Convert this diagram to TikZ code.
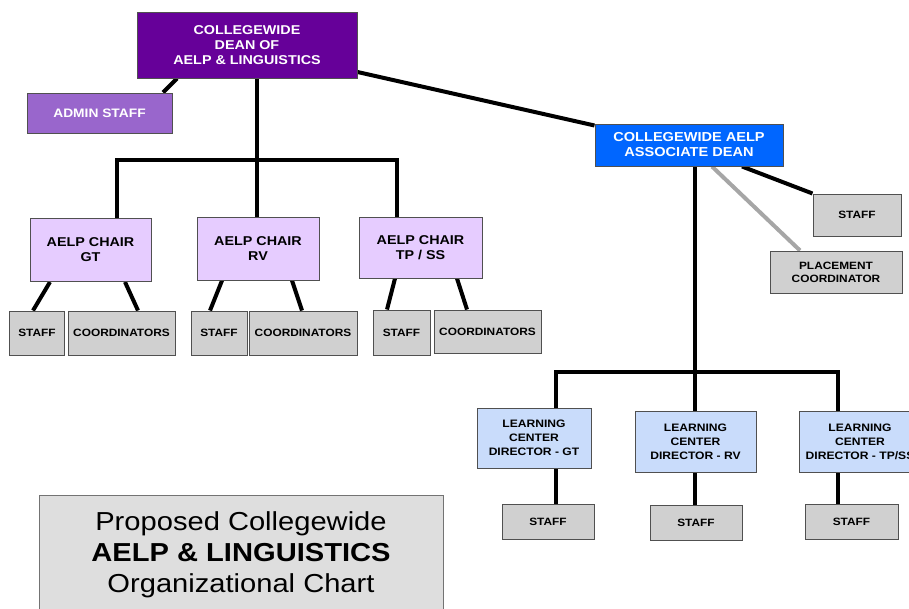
\documentclass[tikz,border=0pt]{standalone}
\usepackage{fontspec}
\setmainfont{Liberation Sans}[FakeStretch=1.12]
\usetikzlibrary{backgrounds}
\definecolor{deanfill}{HTML}{660099}
\definecolor{adminfill}{HTML}{9966CC}
\definecolor{chairfill}{HTML}{E6CCFF}
\definecolor{assocfill}{HTML}{0066FF}
\definecolor{lcfill}{HTML}{C9DCFB}
\definecolor{staffill}{HTML}{D0D0D0}
\definecolor{titlefill}{HTML}{DEDEDE}
\definecolor{boxline}{HTML}{505050}
\definecolor{softline}{HTML}{A6A6A6}
\newcommand\boxfont[2]{\fontsize{#1}{#2}\selectfont\bfseries}
\tikzset{
  orgbox/.style={draw=boxline, line width=1pt, inner sep=0pt, align=center},
  deanbox/.style={orgbox, fill=deanfill, text=white, font=\boxfont{12.8}{15}},
  adminbox/.style={orgbox, fill=adminfill, text=white, font=\boxfont{12.3}{15}},
  chairbox/.style={orgbox, fill=chairfill, font=\boxfont{12.8}{15}},
  assocbox/.style={orgbox, fill=assocfill, text=white, font=\boxfont{13}{15}},
  lcbox/.style={orgbox, fill=lcfill, font=\boxfont{10.8}{14}},
  staffbox/.style={orgbox, fill=staffill, font=\boxfont{10.6}{13}},
  titlebox/.style={draw=boxline!80, line width=1pt, fill=titlefill},
  conn/.style={line width=4pt, black},
  softconn/.style={line width=4pt, softline}
}
\begin{document}
\begin{tikzpicture}[x=1pt, y=-1pt]
\useasboundingbox (0,0) rectangle (909,608);
% top level
\node[deanbox, minimum width=220, minimum height=66] (dean) at (247,45) {COLLEGEWIDE\\DEAN OF\\AELP \& LINGUISTICS};
\node[adminbox, minimum width=145, minimum height=40] (admin) at (99.5,113) {ADMIN STAFF};
% campus chairs
\node[chairbox, minimum width=121, minimum height=63] (chairGT) at (90.5,250) {AELP CHAIR\\GT};
\node[chairbox, minimum width=122, minimum height=63] (chairRV) at (258,248.5) {AELP CHAIR\\RV};
\node[chairbox, minimum width=123, minimum height=61] (chairTP) at (420.5,247.5) {AELP CHAIR\\TP / SS};
\node[staffbox, minimum width=55, minimum height=44] (staffGT) at (37,333) {STAFF};
\node[staffbox, minimum width=107, minimum height=44] (coordGT) at (121.5,333) {COORDINATORS};
\node[staffbox, minimum width=56, minimum height=44] (staffRV) at (219,333) {STAFF};
\node[staffbox, minimum width=108, minimum height=44] (coordRV) at (303,333) {COORDINATORS};
\node[staffbox, minimum width=57, minimum height=45] (staffTP) at (401.5,332.5) {STAFF};
\node[staffbox, minimum width=107, minimum height=43] (coordTP) at (487.5,331.5) {COORDINATORS};
% associate dean branch
\node[assocbox, minimum width=188, minimum height=42] (assoc) at (689,145) {COLLEGEWIDE AELP\\ASSOCIATE DEAN};
\node[staffbox, minimum width=88, minimum height=42] (staffR) at (857,215) {STAFF};
\node[staffbox, minimum width=132, minimum height=42] (placement) at (836,272) {PLACEMENT\\COORDINATOR};
\node[lcbox, minimum width=114, minimum height=60] (lcGT) at (534,438) {LEARNING\\CENTER\\DIRECTOR - GT};
\node[lcbox, minimum width=121, minimum height=61] (lcRV) at (695.5,441.5) {LEARNING\\CENTER\\DIRECTOR - RV};
\node[lcbox, minimum width=122, minimum height=61] (lcTP) at (860,441.5) {LEARNING\\CENTER\\DIRECTOR - TP/SS};
\node[staffbox, minimum width=92, minimum height=35] (lsGT) at (548,521.5) {STAFF};
\node[staffbox, minimum width=92, minimum height=35] (lsRV) at (696,522.5) {STAFF};
\node[staffbox, minimum width=93, minimum height=35] (lsTP) at (851.5,521.5) {STAFF};
% chart title
\node[titlebox, minimum width=404, minimum height=125] (title) at (241,557.5) {};
\node[align=center, inner sep=0pt, font=\fontsize{26}{31}\selectfont] (titletext) at (241,555)
  {Proposed Collegewide\\\textbf{AELP \& LINGUISTICS}\\Organizational Chart};
% connectors
\coordinate (cbar) at (257,160);
\coordinate (lbar) at (695,372);
\begin{scope}[on background layer]
\draw[conn] ([xshift=63.5pt]admin.north) -- ([xshift=-70pt]dean.south);
\draw[conn] ([xshift=10pt]dean.south) -- (cbar);
\draw[conn] ([xshift=26.5pt]chairGT.north) |- (cbar) -| ([xshift=-23.5pt]chairTP.north);
\draw[conn] (cbar) -- ([xshift=-1pt]chairRV.north);
\draw[conn] ([xshift=-40.5pt]chairGT.south) -- ([xshift=-4pt]staffGT.north);
\draw[conn] ([xshift=34.5pt]chairGT.south) -- ([xshift=16.5pt]coordGT.north);
\draw[conn] ([xshift=-36pt]chairRV.south) -- ([xshift=-9pt]staffRV.north);
\draw[conn] ([xshift=34pt]chairRV.south) -- ([xshift=-1pt]coordRV.north);
\draw[conn] ([xshift=-25.5pt]chairTP.south) -- ([xshift=-14.5pt]staffTP.north);
\draw[conn] ([xshift=36.5pt]chairTP.south) -- ([xshift=-20.5pt]coordTP.north);
\draw[conn] ([yshift=-27pt]dean.east) -- ([yshift=-2pt]assoc.north west);
\draw[conn] ([xshift=53pt]assoc.south) -- (staffR.north west);
\draw[softconn] ([xshift=23pt]assoc.south) -- ([xshift=-36pt]placement.north);
\draw[conn] ([xshift=6pt]assoc.south) -- (lbar) -- ([xshift=-0.5pt]lcRV.north);
\draw[conn] ([xshift=22pt]lcGT.north) |- (lbar) -| ([xshift=-22pt]lcTP.north);
\draw[conn] ([xshift=22pt]lcGT.south) -- ([xshift=8pt]lsGT.north);
\draw[conn] ([xshift=-0.5pt]lcRV.south) -- ([xshift=-1pt]lsRV.north);
\draw[conn] ([xshift=-22pt]lcTP.south) -- ([xshift=-13.5pt]lsTP.north);
\end{scope}
\end{tikzpicture}
\end{document}
